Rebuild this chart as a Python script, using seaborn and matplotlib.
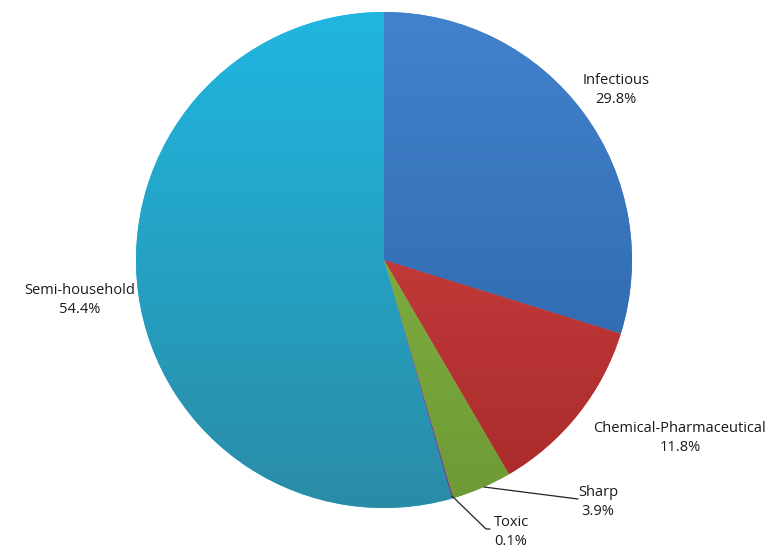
import numpy as np
import matplotlib
matplotlib.use("Agg")
import matplotlib.pyplot as plt
import seaborn as sns
from matplotlib.colors import LinearSegmentedColormap

categories = ["Infectious", "Chemical-Pharmaceutical", "Sharp", "Toxic", "Semi-household"]
values = [29.8, 11.8, 3.9, 0.1, 54.4]
top_colors = ["#4282cc", "#d84848", "#8cbc48", "#8a5cb0", "#20b6e0"]
bottom_colors = ["#2a62a6", "#a82a2a", "#6e9a36", "#6a3c90", "#2a8ca6"]

sns.set_theme(style="white")
plt.rcParams['font.family'] = ['Open Sans', 'DejaVu Sans']

W, H = 768, 549
fig = plt.figure(figsize=(W / 100, H / 100), dpi=100)
ax = fig.add_axes([0, 0, 1, 1])
ax.set_xlim(0, W)
ax.set_ylim(0, H)
ax.set_aspect("equal")
ax.axis("off")

cx, cy, r = 384, H - 260, 248
wedges, _ = ax.pie(values, colors=top_colors, startangle=90, counterclock=False,
                   center=(cx, cy), radius=r, frame=True,
                   wedgeprops=dict(linewidth=0))
ax.set_xlim(0, W)
ax.set_ylim(0, H)
ax.axis("off")

grad = np.linspace(0, 1, 256).reshape(-1, 1)
for w, c1, c2 in zip(wedges, top_colors, bottom_colors):
    cmap = LinearSegmentedColormap.from_list("g", [c2, c1])
    im = ax.imshow(grad, cmap=cmap, extent=(cx - r, cx + r, cy - r, cy + r),
                   origin="lower", aspect="auto", zorder=w.get_zorder())
    im.set_clip_path(w)

fs = 10.5
def lab(x, y, text):
    ax.text(x, H - y, text, ha="center", va="center", fontsize=fs,
            color="#1a1a1a", linespacing=1.3)

lab(616, 90, f"{categories[0]}\n{values[0]}%")
lab(680, 438, f"{categories[1]}\n{values[1]}%")
lab(598, 502, f"{categories[2]}\n{values[2]}%")
lab(511, 532, f"{categories[3]}\n{values[3]}%")
lab(80, 300, f"{categories[4]}\n{values[4]}%")

ax.plot([484, 578], [H - 487, H - 499], color="#222222", lw=0.9)
ax.plot([452, 486, 490], [H - 496, H - 529, H - 529], color="#222222", lw=0.9)

fig.savefig("out.png", dpi=100)
